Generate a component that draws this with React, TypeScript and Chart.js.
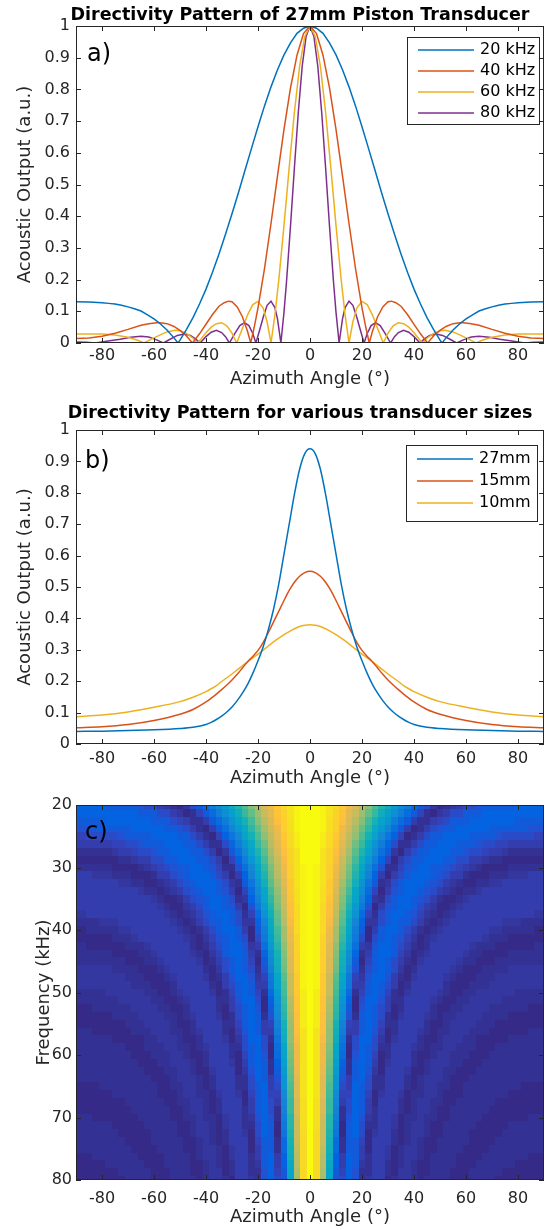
import React, { useEffect, useRef } from "react";
import { Chart, registerables } from "chart.js";

Chart.register(...registerables);

const FONT = "'DejaVu Sans', Verdana, sans-serif";
const INK = "#262626";
const COLORS = ["#0072BD", "#D95319", "#EDB120", "#7E2F8E"];
Chart.defaults.font.family = FONT;

// ---------- tick labels ----------
const angleTicks = [-80, -60, -40, -20, 0, 20, 40, 60, 80];
const outputTicks = [0, 0.1, 0.2, 0.3, 0.4, 0.5, 0.6, 0.7, 0.8, 0.9, 1];
const freqTicks = [20, 30, 40, 50, 60, 70, 80];

// ---------- panel a (pattern is symmetric, values listed for angle >= 0) ----------
const freqLabels = ["20 kHz", "40 kHz", "60 kHz", "80 kHz"];
const ang20 = [0, 2.5, 5, 7.5, 10, 12.5, 15, 17.5, 20, 22.5, 25, 27.5, 30, 32.5, 35, 37.5, 40, 42.5, 45, 47.5, 50, 50.8, 52, 55, 57.5, 60, 62.5, 65, 67.5, 70, 72.5, 75, 77.5, 80, 85, 90];
const out20 = [1, 0.993, 0.977, 0.947, 0.909, 0.862, 0.808, 0.748, 0.682, 0.614, 0.545, 0.475, 0.408, 0.343, 0.281, 0.223, 0.17, 0.123, 0.08, 0.043, 0.009, 0, 0.013, 0.041, 0.06, 0.076, 0.089, 0.101, 0.108, 0.114, 0.119, 0.123, 0.125, 0.127, 0.129, 0.13];
const ang40 = [0, 2.5, 5, 7.5, 10, 12.5, 15, 17.5, 20, 21.5, 22.8, 24, 26, 28, 30, 31.3, 33, 35, 37.5, 40, 42.5, 45.2, 47.5, 50, 52.5, 55, 58.3, 62, 65, 70, 75, 80, 85, 90];
const out40 = [1, 0.976, 0.908, 0.805, 0.674, 0.527, 0.377, 0.235, 0.111, 0.048, 0, 0.036, 0.083, 0.114, 0.13, 0.132, 0.127, 0.116, 0.09, 0.059, 0.029, 0, 0.022, 0.04, 0.053, 0.061, 0.0645, 0.061, 0.056, 0.043, 0.031, 0.021, 0.016, 0.014];
const ang60 = [0, 2, 4, 6, 8, 10, 12, 13.5, 15, 16.5, 18, 20, 22, 24, 26, 28.2, 30, 32, 34, 36, 38, 40, 42, 43.3, 45, 47.5, 50, 52, 55, 58, 61, 63.9, 66, 70, 75, 80, 85, 90];
const out60 = [1, 0.967, 0.873, 0.728, 0.554, 0.371, 0.199, 0.089, 0, 0.067, 0.11, 0.131, 0.121, 0.089, 0.046, 0, 0.031, 0.054, 0.064, 0.061, 0.05, 0.032, 0.012, 0, 0.015, 0.03, 0.039, 0.04, 0.035, 0.024, 0.012, 0, 0.008, 0.018, 0.025, 0.028, 0.028, 0.028];
const ang80 = [0, 1.5, 3, 4.5, 6, 7.5, 9, 10, 11.2, 12.5, 13.5, 15, 16.5, 18, 19.5, 20.8, 22, 23.5, 25.2, 27, 29, 31, 32.5, 34, 36, 38, 40, 42.3, 44, 46, 48.4, 51, 54, 56.4, 59, 62, 65, 69, 73, 77, 82.6, 86, 90];
const out80 = [1, 0.967, 0.873, 0.727, 0.553, 0.369, 0.197, 0.097, 0, 0.076, 0.112, 0.132, 0.119, 0.081, 0.037, 0, 0.03, 0.055, 0.0645, 0.055, 0.029, 0, 0.02, 0.033, 0.04, 0.034, 0.02, 0, 0.013, 0.024, 0.028, 0.024, 0.011, 0, 0.01, 0.019, 0.021, 0.018, 0.012, 0.007, 0, 0.002, 0.003];

// ---------- panel b ----------
const sizeLabels = ["27mm", "15mm", "10mm"];
const sizeAngles = [0, 2, 4, 6, 8, 10, 12, 14, 16, 18, 20, 22, 24, 26, 28, 30, 32, 34, 36, 38, 40, 45, 50, 60, 70, 80, 90];
const out27 = [0.94, 0.925, 0.875, 0.795, 0.7, 0.605, 0.51, 0.43, 0.365, 0.31, 0.265, 0.225, 0.19, 0.162, 0.138, 0.118, 0.102, 0.089, 0.078, 0.069, 0.062, 0.053, 0.049, 0.045, 0.043, 0.041, 0.04];
const out15 = [0.55, 0.546, 0.534, 0.515, 0.489, 0.457, 0.423, 0.389, 0.355, 0.324, 0.298, 0.279, 0.262, 0.242, 0.222, 0.204, 0.188, 0.173, 0.159, 0.146, 0.134, 0.11, 0.095, 0.075, 0.062, 0.055, 0.052];
const out10 = [0.38, 0.378, 0.374, 0.367, 0.358, 0.348, 0.337, 0.325, 0.312, 0.299, 0.286, 0.274, 0.262, 0.249, 0.236, 0.223, 0.211, 0.199, 0.186, 0.176, 0.167, 0.149, 0.135, 0.117, 0.102, 0.092, 0.087];

// ---------- panel c (percent of max, angle >= 0, symmetric) ----------
const heatFreqs = [20, 21.25, 22.5, 23.75, 25, 26.25, 27.5, 28.75, 30, 31.25, 32.5, 33.75, 35, 36.25, 37.5, 38.75, 40, 41.25, 42.5, 43.75, 45, 46.25, 47.5, 48.75, 50, 51.25, 52.5, 53.75, 55, 56.25, 57.5, 58.75, 60, 61.25, 62.5, 63.75, 65, 66.25, 67.5, 68.75, 70, 71.25, 72.5, 73.75, 75, 76.25, 77.5, 78.75, 80];
const heatAngles = [0, 2.5, 5, 7.5, 10, 12.5, 15, 17.5, 20, 22.5, 25, 27.5, 30, 32.5, 35, 37.5, 40, 42.5, 45, 47.5, 50, 52.5, 55, 57.5, 60, 62.5, 65, 67.5, 70, 72.5, 75, 77.5, 80, 82.5, 85, 87.5, 90];
const heatPct = [
  [100, 99, 98, 95, 91, 86, 81, 75, 68, 61, 54, 47, 41, 34, 28, 22, 17, 12, 8, 4, 1, 2, 4, 6, 8, 9, 10, 11, 11, 12, 12, 12, 13, 13, 13, 13, 13],
  [100, 99, 97, 94, 90, 85, 78, 72, 65, 57, 50, 42, 35, 29, 22, 16, 11, 7, 3, 1, 4, 6, 8, 9, 11, 12, 12, 13, 13, 13, 13, 13, 13, 13, 13, 13, 13],
  [100, 99, 97, 93, 89, 83, 76, 69, 61, 53, 45, 37, 30, 23, 17, 11, 6, 2, 2, 5, 7, 9, 11, 12, 12, 13, 13, 13, 13, 13, 13, 13, 12, 12, 12, 12, 12],
  [100, 99, 97, 93, 88, 81, 74, 66, 57, 49, 40, 32, 25, 18, 12, 6, 1, 3, 6, 8, 10, 11, 12, 13, 13, 13, 13, 13, 12, 12, 12, 11, 11, 11, 10, 10, 10],
  [100, 99, 96, 92, 86, 79, 71, 63, 54, 45, 36, 27, 20, 13, 7, 1, 3, 6, 9, 11, 12, 13, 13, 13, 13, 12, 12, 11, 11, 10, 9, 9, 8, 8, 8, 7, 7],
  [100, 99, 96, 91, 85, 77, 69, 59, 50, 40, 31, 23, 15, 8, 2, 2, 6, 9, 11, 12, 13, 13, 13, 12, 12, 11, 10, 9, 8, 7, 7, 6, 6, 5, 5, 5, 5],
  [100, 99, 95, 90, 83, 75, 66, 56, 46, 36, 27, 18, 11, 4, 1, 5, 9, 11, 12, 13, 13, 13, 12, 11, 10, 9, 8, 7, 6, 5, 4, 3, 3, 2, 2, 2, 2],
  [100, 99, 95, 90, 82, 73, 63, 53, 42, 32, 22, 14, 7, 0, 5, 8, 11, 12, 13, 13, 13, 12, 11, 9, 8, 6, 5, 4, 3, 2, 1, 1, 0, 0, 1, 1, 1],
  [100, 98, 95, 89, 81, 71, 60, 49, 38, 28, 18, 10, 3, 3, 7, 10, 12, 13, 13, 12, 12, 10, 8, 7, 5, 4, 3, 1, 0, 1, 1, 2, 2, 3, 3, 3, 3],
  [100, 98, 94, 88, 79, 69, 58, 46, 35, 24, 14, 6, 1, 6, 9, 12, 13, 13, 13, 11, 10, 8, 6, 5, 3, 1, 0, 1, 2, 3, 3, 4, 4, 4, 5, 5, 5],
  [100, 98, 94, 87, 77, 67, 55, 43, 31, 20, 11, 3, 4, 8, 11, 13, 13, 13, 12, 10, 8, 6, 4, 2, 0, 1, 2, 3, 4, 4, 5, 5, 6, 6, 6, 6, 6],
  [100, 98, 93, 86, 76, 64, 52, 39, 27, 17, 7, 0, 6, 10, 12, 13, 13, 12, 10, 8, 6, 4, 2, 0, 2, 3, 4, 5, 5, 6, 6, 6, 6, 6, 6, 6, 6],
  [100, 98, 93, 85, 74, 62, 49, 36, 24, 13, 4, 3, 8, 11, 13, 13, 12, 10, 8, 6, 3, 1, 1, 2, 4, 5, 5, 6, 6, 6, 6, 6, 6, 6, 6, 6, 6],
  [100, 98, 92, 84, 73, 60, 46, 33, 21, 10, 1, 6, 10, 12, 13, 13, 11, 9, 6, 4, 1, 1, 3, 4, 5, 6, 6, 6, 6, 6, 6, 6, 6, 6, 6, 6, 6],
  [100, 98, 92, 83, 71, 57, 43, 30, 17, 7, 2, 8, 11, 13, 13, 12, 10, 7, 4, 2, 1, 3, 4, 5, 6, 6, 6, 6, 6, 6, 6, 5, 5, 5, 5, 4, 4],
  [100, 98, 91, 82, 69, 55, 40, 26, 14, 4, 4, 9, 12, 13, 12, 11, 8, 5, 2, 0, 3, 4, 5, 6, 6, 6, 6, 6, 5, 5, 4, 4, 4, 3, 3, 3, 3],
  [100, 98, 91, 80, 67, 53, 38, 23, 11, 1, 6, 11, 13, 13, 12, 9, 6, 3, 0, 2, 4, 5, 6, 6, 6, 6, 6, 5, 4, 4, 3, 3, 2, 2, 2, 1, 1],
  [100, 97, 90, 79, 66, 50, 35, 21, 8, 1, 8, 12, 13, 12, 10, 7, 4, 1, 2, 4, 5, 6, 6, 6, 6, 5, 5, 4, 3, 2, 2, 1, 1, 0, 0, 0, 0],
  [100, 97, 90, 78, 64, 48, 32, 18, 6, 4, 10, 13, 13, 12, 9, 5, 2, 1, 3, 5, 6, 6, 6, 6, 5, 4, 3, 2, 2, 1, 1, 0, 1, 1, 1, 2, 2],
  [100, 97, 89, 77, 62, 45, 29, 15, 3, 6, 11, 13, 13, 11, 7, 4, 0, 2, 4, 6, 6, 6, 6, 5, 4, 3, 2, 1, 0, 1, 1, 2, 2, 2, 3, 3, 3],
  [100, 97, 89, 76, 60, 43, 27, 12, 1, 7, 12, 13, 12, 9, 6, 2, 1, 4, 5, 6, 6, 6, 5, 4, 3, 2, 1, 1, 1, 2, 3, 3, 3, 3, 3, 3, 3],
  [100, 97, 88, 75, 58, 41, 24, 10, 2, 9, 12, 13, 11, 8, 4, 0, 3, 5, 6, 6, 6, 5, 4, 3, 1, 0, 1, 2, 2, 3, 3, 4, 4, 4, 4, 4, 4],
  [100, 97, 87, 73, 56, 38, 21, 7, 4, 10, 13, 13, 10, 6, 2, 1, 4, 6, 6, 6, 5, 4, 3, 1, 0, 1, 2, 3, 3, 4, 4, 4, 4, 4, 4, 4, 4],
  [100, 97, 87, 72, 54, 36, 19, 5, 5, 11, 13, 12, 9, 5, 1, 3, 5, 6, 6, 6, 5, 3, 1, 0, 1, 2, 3, 3, 4, 4, 4, 4, 4, 4, 4, 4, 4],
  [100, 96, 86, 72, 52, 34, 16, 2, 7, 12, 13, 11, 7, 3, 1, 4, 6, 6, 6, 5, 4, 2, 0, 1, 2, 3, 4, 4, 4, 4, 4, 4, 3, 3, 3, 3, 3],
  [100, 96, 85, 69, 50, 31, 14, 0, 8, 13, 13, 10, 6, 2, 2, 5, 6, 6, 6, 4, 2, 1, 1, 2, 3, 4, 4, 4, 4, 4, 3, 3, 3, 2, 2, 2, 2],
  [100, 96, 85, 68, 49, 29, 12, 1, 10, 13, 12, 9, 5, 0, 3, 6, 6, 6, 5, 3, 1, 1, 2, 3, 4, 4, 4, 4, 3, 3, 2, 2, 2, 2, 1, 1, 1],
  [100, 96, 84, 67, 47, 27, 10, 3, 11, 13, 12, 8, 3, 1, 4, 6, 6, 6, 4, 2, 0, 2, 3, 4, 4, 4, 4, 3, 3, 2, 2, 1, 1, 1, 0, 0, 0],
  [100, 96, 83, 65, 45, 24, 7, 5, 11, 13, 11, 7, 2, 2, 5, 6, 6, 5, 3, 1, 1, 3, 4, 4, 4, 4, 3, 2, 2, 1, 1, 0, 0, 1, 1, 1, 1],
  [100, 95, 83, 64, 43, 22, 5, 6, 12, 13, 10, 5, 0, 3, 6, 6, 6, 4, 2, 0, 2, 3, 4, 4, 4, 3, 2, 2, 1, 0, 0, 1, 1, 1, 2, 2, 2],
  [100, 95, 82, 63, 41, 20, 3, 8, 13, 13, 9, 4, 1, 4, 6, 6, 5, 3, 1, 1, 3, 4, 4, 4, 3, 2, 1, 1, 0, 1, 1, 2, 2, 2, 2, 2, 2],
  [100, 95, 81, 61, 39, 18, 1, 9, 13, 12, 8, 3, 2, 5, 6, 6, 4, 2, 1, 2, 3, 4, 4, 3, 2, 2, 1, 0, 1, 2, 2, 2, 2, 3, 3, 3, 3],
  [100, 95, 80, 60, 37, 16, 0, 10, 13, 12, 7, 1, 3, 6, 6, 5, 3, 1, 1, 3, 4, 4, 3, 3, 2, 1, 1, 1, 2, 2, 2, 3, 3, 3, 3, 3, 3],
  [100, 94, 80, 58, 35, 14, 2, 11, 13, 11, 6, 0, 4, 6, 6, 5, 2, 0, 2, 4, 4, 4, 3, 2, 1, 0, 1, 2, 2, 3, 3, 3, 3, 3, 3, 3, 3],
  [100, 94, 79, 57, 33, 12, 3, 11, 13, 10, 4, 1, 5, 6, 6, 4, 1, 1, 3, 4, 4, 3, 2, 1, 0, 1, 2, 2, 3, 3, 3, 3, 3, 2, 2, 2, 2],
  [100, 94, 78, 56, 31, 10, 5, 12, 13, 9, 3, 2, 5, 6, 5, 3, 0, 2, 4, 4, 4, 3, 1, 0, 1, 2, 2, 3, 3, 3, 3, 2, 2, 2, 2, 2, 2],
  [100, 94, 77, 54, 30, 8, 6, 13, 12, 8, 2, 3, 6, 6, 5, 2, 1, 3, 4, 4, 3, 2, 1, 1, 2, 2, 3, 3, 3, 2, 2, 2, 2, 1, 1, 1, 1],
  [100, 94, 77, 53, 28, 7, 7, 13, 12, 7, 1, 4, 6, 6, 4, 1, 2, 3, 4, 4, 2, 1, 0, 1, 2, 3, 3, 3, 2, 2, 2, 1, 1, 1, 0, 0, 0],
  [100, 93, 76, 51, 26, 5, 8, 13, 11, 6, 0, 5, 6, 6, 3, 0, 2, 4, 4, 3, 2, 0, 1, 2, 3, 3, 3, 2, 2, 1, 1, 0, 0, 0, 0, 0, 0],
  [100, 93, 75, 50, 24, 3, 9, 13, 11, 5, 2, 5, 6, 5, 2, 1, 3, 4, 4, 3, 1, 1, 2, 3, 3, 3, 2, 2, 1, 1, 0, 0, 1, 1, 1, 1, 1],
  [100, 93, 74, 48, 22, 2, 10, 13, 10, 4, 2, 6, 6, 4, 1, 2, 3, 4, 3, 2, 0, 1, 2, 3, 3, 2, 2, 1, 0, 0, 1, 1, 1, 1, 2, 2, 2],
  [100, 93, 73, 47, 21, 0, 11, 13, 9, 2, 3, 6, 6, 4, 0, 2, 4, 4, 3, 1, 1, 2, 3, 3, 2, 2, 1, 0, 0, 1, 1, 2, 2, 2, 2, 2, 2],
  [100, 92, 72, 46, 19, 1, 11, 13, 8, 1, 4, 6, 6, 3, 1, 3, 4, 4, 2, 0, 1, 2, 3, 3, 2, 1, 1, 0, 1, 1, 2, 2, 2, 2, 2, 2, 2],
  [100, 92, 72, 44, 17, 2, 12, 12, 7, 0, 5, 6, 5, 2, 1, 3, 4, 3, 1, 1, 2, 3, 3, 2, 2, 1, 0, 1, 1, 2, 2, 2, 2, 2, 2, 2, 2],
  [100, 92, 71, 43, 16, 3, 12, 12, 6, 1, 5, 6, 4, 1, 2, 4, 4, 3, 1, 1, 2, 3, 3, 2, 1, 0, 1, 1, 2, 2, 2, 2, 2, 2, 2, 2, 2],
  [100, 92, 70, 41, 14, 5, 13, 12, 5, 2, 6, 6, 4, 0, 3, 4, 4, 2, 0, 2, 3, 3, 2, 1, 0, 1, 1, 2, 2, 2, 2, 2, 2, 2, 1, 1, 1],
  [100, 91, 69, 40, 13, 6, 13, 11, 4, 2, 6, 6, 3, 1, 3, 4, 3, 1, 1, 2, 3, 3, 2, 1, 0, 1, 2, 2, 2, 2, 2, 2, 1, 1, 1, 1, 1],
  [100, 91, 68, 38, 11, 7, 13, 10, 3, 3, 6, 6, 2, 1, 4, 4, 3, 1, 1, 3, 3, 2, 1, 0, 1, 2, 2, 2, 2, 2, 1, 1, 1, 1, 0, 0, 0],
  [100, 91, 67, 37, 10, 8, 13, 10, 2, 4, 6, 5, 1, 2, 4, 4, 2, 1, 2, 3, 3, 2, 1, 0, 1, 2, 2, 2, 2, 1, 1, 1, 0, 0, 0, 0, 0],
];

// parula colormap key colours (style)
const PARULA: number[][] = [
  [0, 0.2081, 0.1663, 0.5292],
  [4 / 63, 0.1959, 0.2645, 0.7279],
  [6 / 63, 0.1253, 0.3242, 0.8303],
  [8 / 63, 0.0117, 0.3875, 0.882],
  [12 / 63, 0.0498, 0.4586, 0.8641],
  [16 / 63, 0.0793, 0.52, 0.8312],
  [20 / 63, 0.0343, 0.5966, 0.8199],
  [24 / 63, 0.0228, 0.6535, 0.7768],
  [28 / 63, 0.0843, 0.6928, 0.7062],
  [32 / 63, 0.2178, 0.725, 0.6193],
  [36 / 63, 0.3953, 0.7459, 0.5244],
  [40 / 63, 0.5709, 0.7485, 0.4494],
  [44 / 63, 0.7184, 0.7411, 0.3905],
  [48 / 63, 0.8507, 0.7299, 0.336],
  [52 / 63, 0.9739, 0.7314, 0.2666],
  [54 / 63, 0.999, 0.7653, 0.2164],
  [56 / 63, 0.988, 0.8066, 0.1794],
  [60 / 63, 0.9589, 0.8949, 0.1132],
  [1, 0.9763, 0.9831, 0.0538],
];

function parula(v: number): string {
  const idx = Math.max(0, Math.min(63, Math.floor(v * 64)));
  const t = idx / 63;
  let k = 0;
  while (k < PARULA.length - 2 && PARULA[k + 1][0] < t) k++;
  const a = PARULA[k], b = PARULA[k + 1];
  const f = Math.max(0, Math.min(1, (t - a[0]) / (b[0] - a[0])));
  const c = [1, 2, 3].map((i) => Math.round(255 * (a[i] + (b[i] - a[i]) * f)));
  return `rgb(${c[0]},${c[1]},${c[2]})`;
}

function mirrored(angles: number[], values: number[]) {
  const pts: { x: number; y: number }[] = [];
  for (let i = angles.length - 1; i > 0; i--) pts.push({ x: -angles[i], y: values[i] });
  for (let i = 0; i < angles.length; i++) pts.push({ x: angles[i], y: values[i] });
  return pts;
}

type Frame = {
  title?: { text: string; x: number; y: number };
  label: { text: string; x: number; y: number };
  xTitle: { text: string; x: number; y: number };
  yTitle: { text: string; x: number };
  xTicks: number[];
  yTicks: number[];
  legend?: { x: number; y: number; w: number; h: number; first: number; rowH: number };
  heat?: boolean;
};

function drawHeat(chart: any) {
  const { ctx, chartArea: a, scales } = chart;
  const xs = scales.x, ys = scales.y;
  const hf = (heatFreqs[1] - heatFreqs[0]) / 2;
  const ha = (heatAngles[1] - heatAngles[0]) / 2;
  ctx.save();
  ctx.beginPath();
  ctx.rect(a.left, a.top, a.right - a.left, a.bottom - a.top);
  ctx.clip();
  heatFreqs.forEach((f, i) => {
    const row = heatPct[i];
    if (!row) return;
    const y0 = ys.getPixelForValue(f - hf), y1 = ys.getPixelForValue(f + hf);
    const top = Math.round(Math.min(y0, y1)), bot = Math.round(Math.max(y0, y1));
    heatAngles.forEach((ang, j) => {
      const v = row[j];
      if (v === undefined) return;
      ctx.fillStyle = parula(v / 100);
      const sides = ang === 0 ? [1] : [1, -1];
      for (const s of sides) {
        const xa = xs.getPixelForValue(s * ang - ha), xb = xs.getPixelForValue(s * ang + ha);
        const l = Math.round(Math.min(xa, xb)), r = Math.round(Math.max(xa, xb));
        ctx.fillRect(l, top, r - l, bot - top);
      }
    });
  });
  ctx.restore();
}

function makeFramePlugin(f: Frame) {
  return {
    id: "frame",
    beforeDatasetsDraw(chart: any) {
      if (f.heat) drawHeat(chart);
    },
    afterDatasetsDraw(chart: any) {
      const { ctx, chartArea: a, scales } = chart;
      const xs = scales.x, ys = scales.y;
      ctx.save();
      ctx.strokeStyle = INK;
      ctx.lineWidth = 1;
      ctx.strokeRect(Math.round(a.left) + 0.5, Math.round(a.top) + 0.5, Math.round(a.right - a.left) - 1, Math.round(a.bottom - a.top) - 1);
      ctx.beginPath();
      for (const v of f.xTicks) {
        const px = Math.round(xs.getPixelForValue(v)) + 0.5;
        ctx.moveTo(px, a.bottom);
        ctx.lineTo(px, a.bottom - 5);
        ctx.moveTo(px, a.top);
        ctx.lineTo(px, a.top + 5);
      }
      for (const v of f.yTicks) {
        const py = Math.round(ys.getPixelForValue(v)) + 0.5;
        ctx.moveTo(a.left, py);
        ctx.lineTo(a.left + 5, py);
        ctx.moveTo(a.right, py);
        ctx.lineTo(a.right - 5, py);
      }
      ctx.stroke();

      if (f.legend) {
        const lg = f.legend;
        ctx.fillStyle = "#ffffff";
        ctx.fillRect(lg.x, lg.y, lg.w, lg.h);
        ctx.strokeStyle = INK;
        ctx.lineWidth = 1;
        ctx.strokeRect(lg.x + 0.5, lg.y + 0.5, lg.w, lg.h);
        chart.data.datasets.forEach((ds: any, i: number) => {
          const yy = lg.y + lg.first + i * lg.rowH;
          ctx.strokeStyle = ds.borderColor;
          ctx.lineWidth = 1.5;
          ctx.beginPath();
          ctx.moveTo(lg.x + 11, yy);
          ctx.lineTo(lg.x + 67, yy);
          ctx.stroke();
          ctx.fillStyle = "#000";
          ctx.font = `16px ${FONT}`;
          ctx.textAlign = "left";
          ctx.textBaseline = "middle";
          ctx.fillText(ds.label, lg.x + 73, yy);
        });
      }

      ctx.textAlign = "center";
      ctx.textBaseline = "middle";
      if (f.title) {
        ctx.fillStyle = "#000";
        ctx.font = `bold 17.5px ${FONT}`;
        ctx.fillText(f.title.text, f.title.x, f.title.y);
      }
      ctx.fillStyle = INK;
      ctx.font = `18px ${FONT}`;
      ctx.fillText(f.xTitle.text, f.xTitle.x, f.xTitle.y);
      ctx.save();
      ctx.translate(f.yTitle.x, (a.top + a.bottom) / 2);
      ctx.rotate(-Math.PI / 2);
      ctx.fillText(f.yTitle.text, 0, 0);
      ctx.restore();
      ctx.fillStyle = "#000";
      ctx.font = `24px ${FONT}`;
      ctx.textAlign = "left";
      ctx.fillText(f.label.text, f.label.x, f.label.y);
      ctx.restore();
    },
  };
}

function xAxis(xH: number, pad: number) {
  return {
    type: "linear",
    min: -90,
    max: 90,
    afterBuildTicks: (s: any) => {
      s.ticks = angleTicks.map((v) => ({ value: v }));
    },
    afterFit: (s: any) => {
      s.height = xH;
    },
    grid: { display: false, drawTicks: false },
    border: { display: false },
    ticks: {
      autoSkip: false,
      maxRotation: 0,
      minRotation: 0,
      padding: pad,
      color: INK,
      font: { family: FONT, size: 16 },
      callback: (v: any) => String(v),
    },
  };
}

function yAxis(ticks: number[], min: number, max: number, reverse: boolean, pad: number) {
  return {
    type: "linear",
    min,
    max,
    reverse,
    afterBuildTicks: (s: any) => {
      s.ticks = ticks.map((v) => ({ value: v }));
    },
    afterFit: (s: any) => {
      s.width = 76;
    },
    grid: { display: false, drawTicks: false },
    border: { display: false },
    ticks: {
      autoSkip: false,
      padding: pad,
      color: INK,
      font: { family: FONT, size: 16 },
      callback: (v: any) => String(v),
    },
  };
}

function baseOptions(padTop: number, xH: number, xPad: number, y: any) {
  return {
    responsive: false,
    animation: false,
    devicePixelRatio: 1,
    layout: { padding: { top: padTop, right: 7, left: 0, bottom: 0 } },
    plugins: { legend: { display: false }, tooltip: { enabled: false }, title: { display: false } },
    scales: { x: xAxis(xH, xPad), y },
  };
}

function makeA() {
  const series = [
    [ang20, out20],
    [ang40, out40],
    [ang60, out60],
    [ang80, out80],
  ];
  return {
    type: "scatter",
    data: {
      datasets: series.map(([ang, out], i) => ({
        label: freqLabels[i],
        data: mirrored(ang, out),
        showLine: true,
        borderColor: COLORS[i],
        backgroundColor: COLORS[i],
        borderWidth: 1.5,
        pointRadius: 0,
        tension: 0,
      })),
    },
    options: baseOptions(26, 49, 3, yAxis(outputTicks, 0, 1, false, 6)),
    plugins: [
      makeFramePlugin({
        title: { text: "Directivity Pattern of 27mm Piston Transducer", x: 300, y: 15 },
        label: { text: "a)", x: 87, y: 55 },
        xTitle: { text: "Azimuth Angle (°)", x: 310, y: 379 },
        yTitle: { text: "Acoustic Output (a.u.)", x: 25 },
        xTicks: angleTicks,
        yTicks: outputTicks,
        legend: { x: 407, y: 37, w: 132, h: 87, first: 13, rowH: 21 },
      }),
    ],
  };
}

function makeB() {
  const series = [out27, out15, out10];
  return {
    type: "scatter",
    data: {
      datasets: series.map((out, i) => ({
        label: sizeLabels[i],
        data: mirrored(sizeAngles, out),
        showLine: true,
        borderColor: COLORS[i],
        backgroundColor: COLORS[i],
        borderWidth: 1.5,
        pointRadius: 0,
        cubicInterpolationMode: "monotone",
      })),
    },
    options: baseOptions(38, 46, 5, yAxis(outputTicks, 0, 1, false, 6)),
    plugins: [
      makeFramePlugin({
        title: { text: "Directivity Pattern for various transducer sizes", x: 300, y: 21 },
        label: { text: "b)", x: 85, y: 70 },
        xTitle: { text: "Azimuth Angle (°)", x: 310, y: 386 },
        yTitle: { text: "Acoustic Output (a.u.)", x: 25 },
        xTicks: angleTicks,
        yTicks: outputTicks,
        legend: { x: 406, y: 53, w: 131, h: 76, first: 14, rowH: 22 },
      }),
    ],
  };
}

function makeC() {
  return {
    type: "scatter",
    data: { datasets: [{ label: "heat", data: [], pointRadius: 0 }] },
    options: baseOptions(15, 50, 9, yAxis(freqTicks, 20, 80, true, 4)),
    plugins: [
      makeFramePlugin({
        label: { text: "c)", x: 85, y: 43 },
        xTitle: { text: "Azimuth Angle (°)", x: 310, y: 427 },
        yTitle: { text: "Frequency (kHz)", x: 44 },
        xTicks: angleTicks,
        yTicks: freqTicks,
        heat: true,
      }),
    ],
  };
}

function ChartCanvas({ top, height, make }: { top: number; height: number; make: () => any }) {
  const ref = useRef<HTMLCanvasElement>(null);
  useEffect(() => {
    const chart = new Chart(ref.current as HTMLCanvasElement, make());
    return () => chart.destroy();
  }, []);
  return (
    <canvas
      ref={ref}
      width={551}
      height={height}
      style={{ position: "absolute", left: 0, top, width: 551, height, display: "block" }}
    />
  );
}

export default function App() {
  return (
    <div style={{ position: "absolute", left: 0, top: 0, width: 551, height: 1230, background: "#ffffff", overflow: "hidden" }}>
      <ChartCanvas top={0} height={392} make={makeA} />
      <ChartCanvas top={392} height={398} make={makeB} />
      <ChartCanvas top={790} height={440} make={makeC} />
    </div>
  );
}
